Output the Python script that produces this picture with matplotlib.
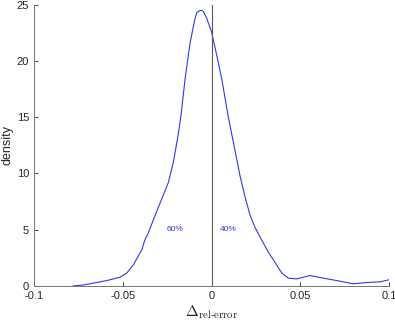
import numpy as np
import matplotlib.pyplot as plt

# density curve
err = [-0.0778, -0.0720, -0.0666, -0.059, -0.0515, -0.0478, -0.044, -0.0393, -0.0375,
       -0.0356, -0.0327, -0.0271, -0.0243, -0.0215, -0.0187, -0.0171, -0.0149, -0.0121,
       -0.0093, -0.0083, -0.0065, -0.0055, -0.0046, -0.0027, 0.0, 0.0031, 0.0059,
       0.0087, 0.0096, 0.0124, 0.0161, 0.0189, 0.0217, 0.0245, 0.0292, 0.032, 0.0349,
       0.0396, 0.0434, 0.048, 0.0555, 0.0611, 0.0706, 0.0799, 0.0875, 0.095, 0.0996]
dens = [0.0, 0.08, 0.24, 0.47, 0.77, 1.13, 1.87, 3.2, 4.1,
        4.7, 5.9, 8.1, 9.2, 11.0, 13.5, 15.3, 18.4, 21.6,
        23.8, 24.3, 24.5, 24.5, 24.4, 23.8, 22.6, 20.4, 18.3,
        15.7, 14.9, 12.7, 9.75, 7.9, 6.3, 5.2, 3.8, 3.0, 2.3,
        1.13, 0.68, 0.62, 0.92, 0.74, 0.47, 0.18, 0.3, 0.36, 0.53]

share_labels = ['60%', '40%']
share_x = [-0.0206, 0.0095]
share_y = [4.98, 4.98]

plt.rcParams['font.family'] = ['Liberation Sans', 'DejaVu Sans']
plt.rcParams['mathtext.fontset'] = 'cm'

fig = plt.figure(figsize=(3.95, 3.23), dpi=100)
ax = fig.add_axes([0.086, 0.115, 0.899, 0.87])

ax.plot(err, dens, color='#3333ff', lw=0.8)
ax.plot([0, 0], [0, 25], color='0.35', lw=0.8)
for lab, x, y in zip(share_labels, share_x, share_y):
    ax.text(x, y, lab, color='#3333ff', fontsize=6, ha='center', va='center')

ax.set_xlim(-0.1, 0.1)
ax.set_ylim(0, 25)
ax.set_xticks([-0.1, -0.05, 0, 0.05, 0.1])
ax.set_xticklabels(['-0.1', '-0.05', '0', '0.05', '0.1'])
ax.set_yticks([0, 5, 10, 15, 20, 25])
ax.tick_params(direction='in', length=3, labelsize=8, colors='0.15', width=0.6)
for s in ['top', 'right']:
    ax.spines[s].set_visible(False)
for s in ['left', 'bottom']:
    ax.spines[s].set_color('0.45')
    ax.spines[s].set_linewidth(0.7)

ax.set_ylabel('density', fontsize=9, color='0.15', labelpad=2)
ax.set_xlabel(r'$\Delta_{\text{rel-error}}$', fontsize=11, color='0.15', labelpad=2,
              family='Liberation Serif', math_fontfamily='cm')

fig.savefig('out.png', dpi=100)
